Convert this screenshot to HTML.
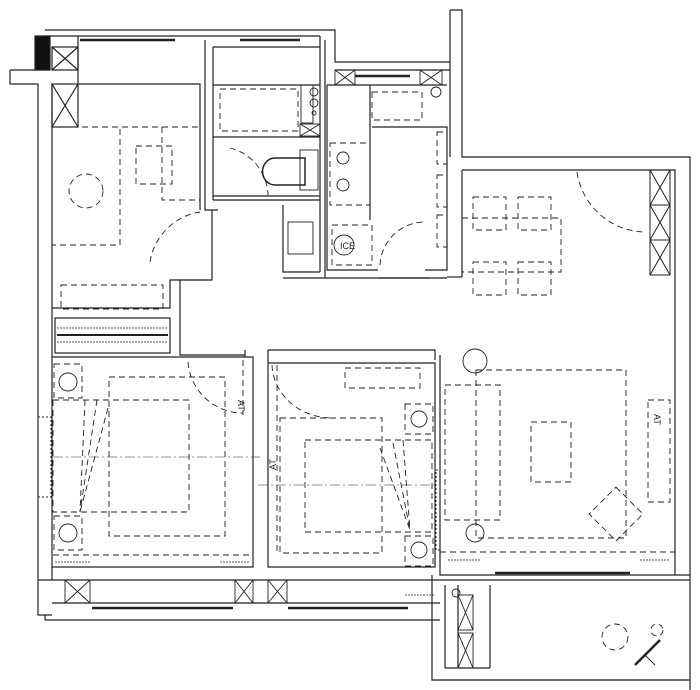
<!DOCTYPE html>
<html><head><style>html,body{margin:0;padding:0;background:#fff}svg{display:block}</style></head>
<body>
<svg width="700" height="690" viewBox="0 0 700 690" xmlns="http://www.w3.org/2000/svg" fill="none" stroke="#222" stroke-width="1">
<g stroke-width="1.2">
<!-- top-left -->
<polyline points="45,30 335,30 335,45"/>
<line x1="45" y1="36" x2="320" y2="36"/>
<rect x="35" y="36" width="15" height="34" fill="#111"/>
<polyline points="10,70 10,84 38,84 38,615 52,615"/>
<line x1="10" y1="70" x2="50" y2="70"/>
<line x1="52" y1="84" x2="52" y2="568"/>
<line x1="78" y1="36" x2="78" y2="84"/>
<rect x="52" y="47" width="26" height="23"/>
<line x1="52" y1="47" x2="78" y2="70"/><line x1="78" y1="47" x2="52" y2="70"/>
<rect x="52" y="84" width="26" height="43"/>
<line x1="52" y1="84" x2="78" y2="127"/><line x1="78" y1="84" x2="52" y2="127"/>
<polyline points="78,84 200,84 200,210"/>
<polyline points="52,308 170,308 170,280 212,280 212,210"/>
<!-- bathroom -->
<polyline points="205,40 205,210 218,210"/>
<polyline points="213,47 213,200"/>
<line x1="213" y1="47" x2="320" y2="47"/>
<line x1="213" y1="85" x2="320" y2="85"/>
<line x1="213" y1="137" x2="320" y2="137"/>
<line x1="213" y1="196" x2="320" y2="196"/>
<line x1="213" y1="200" x2="320" y2="200"/>
<line x1="320" y1="36" x2="320" y2="272"/>
<line x1="325" y1="40" x2="325" y2="278"/>
<polyline points="283,205 283,272 320,272"/>
<line x1="283" y1="278" x2="430" y2="278"/>
<!-- kitchen -->
<polyline points="335,45 335,62 450,62"/>
<line x1="335" y1="70" x2="450" y2="70"/>
<polyline points="450,10 462,10 462,157 690,157 690,690"/>
<line x1="450" y1="10" x2="450" y2="157"/>
<polyline points="327,85 327,270 378,270"/>
<line x1="327" y1="85" x2="447" y2="85"/>
<polyline points="370,85 370,220"/>
<polyline points="372,127 447,127 447,270 425,270"/>
<!-- living -->
<polyline points="462,170 675,170 675,575"/>
<line x1="462" y1="170" x2="462" y2="277"/>
<line x1="447" y1="277" x2="462" y2="277"/>
<line x1="378" y1="278" x2="447" y2="278"/>
<!-- corridor / bedrooms -->
<polyline points="180,280 180,355 245,355"/>
<polyline points="52,357 253,357 253,567 52,567"/>
<line x1="245" y1="350" x2="245" y2="357"/>
<polyline points="268,350 435,350 435,360"/>
<polyline points="268,363 435,363 435,567 268,567 268,363"/>
<line x1="268" y1="350" x2="268" y2="363"/>
<polyline points="440,355 440,575 690,575"/>
<line x1="440" y1="580" x2="690" y2="580"/>
<line x1="38" y1="580" x2="440" y2="580"/>
<line x1="52" y1="567" x2="52" y2="580"/>
<line x1="52" y1="603" x2="440" y2="603"/>
<line x1="45" y1="620" x2="440" y2="620"/>
<line x1="45" y1="615" x2="45" y2="620"/>
<polyline points="432,575 432,680 690,680"/>
<line x1="445" y1="585" x2="445" y2="668"/>
<line x1="445" y1="668" x2="490" y2="668"/>
<line x1="490" y1="585" x2="490" y2="668"/>
<line x1="458" y1="585" x2="458" y2="668"/>
</g>
<!-- pillars bottom -->
<g stroke-width="0.9">
<rect x="65" y="580" width="25" height="23"/><line x1="65" y1="580" x2="90" y2="603"/><line x1="90" y1="580" x2="65" y2="603"/>
<rect x="235" y="580" width="18" height="23"/><line x1="235" y1="580" x2="253" y2="603"/><line x1="253" y1="580" x2="235" y2="603"/>
<rect x="268" y="580" width="19" height="23"/><line x1="268" y1="580" x2="287" y2="603"/><line x1="287" y1="580" x2="268" y2="603"/>
<rect x="458" y="595" width="15" height="35"/><line x1="458" y1="595" x2="473" y2="630"/><line x1="473" y1="595" x2="458" y2="630"/>
<rect x="458" y="633" width="15" height="35"/><line x1="458" y1="633" x2="473" y2="668"/><line x1="473" y1="633" x2="458" y2="668"/>
<rect x="335" y="70" width="20" height="15"/><line x1="335" y1="70" x2="355" y2="85"/><line x1="355" y1="70" x2="335" y2="85"/>
<rect x="420" y="70" width="22" height="15"/><line x1="420" y1="70" x2="442" y2="85"/><line x1="442" y1="70" x2="420" y2="85"/>
<rect x="300" y="124" width="20" height="12"/><line x1="300" y1="124" x2="320" y2="136"/><line x1="320" y1="124" x2="300" y2="136"/>
</g>
<!-- windows -->
<g stroke-width="2.5">
<line x1="80" y1="40" x2="175" y2="40"/><line x1="240" y1="40" x2="300" y2="40"/>
<line x1="355" y1="76" x2="410" y2="76"/>
<line x1="92" y1="608" x2="233" y2="608"/><line x1="288" y1="608" x2="408" y2="608"/>
<line x1="495" y1="573" x2="630" y2="573"/>
</g>
<!-- radiator bands -->
<rect x="55" y="318" width="115" height="35" stroke-width="1.2"/>
<g stroke-width="0.8">
<line x1="57" y1="328" x2="168" y2="328" stroke-dasharray="2 1"/>
<line x1="57" y1="335" x2="168" y2="335" stroke-width="2"/>
<line x1="57" y1="342" x2="168" y2="342" stroke-dasharray="2 1"/>
<line x1="55" y1="562" x2="90" y2="562" stroke-dasharray="2 1"/>
<line x1="220" y1="562" x2="250" y2="562" stroke-dasharray="2 1"/>
<line x1="448" y1="560" x2="480" y2="560" stroke-dasharray="2 1"/>
<line x1="640" y1="560" x2="670" y2="560" stroke-dasharray="2 1"/>
<line x1="405" y1="595" x2="435" y2="595" stroke-dasharray="2 1"/>
</g>
<rect x="38" y="417" width="13" height="80" stroke-dasharray="2 2"/>
<rect x="436" y="470" width="4" height="80" stroke-dasharray="2 2"/>
<rect x="650" y="170" width="20" height="105"/>
<line x1="650" y1="205" x2="670" y2="205"/><line x1="650" y1="240" x2="670" y2="240"/>
<line x1="650" y1="170" x2="670" y2="205"/><line x1="670" y1="170" x2="650" y2="205"/>
<line x1="650" y1="205" x2="670" y2="240"/><line x1="670" y1="205" x2="650" y2="240"/>
<line x1="650" y1="240" x2="670" y2="275"/><line x1="670" y1="240" x2="650" y2="275"/>
<!-- dashed furniture -->
<g stroke-dasharray="6 4" stroke-width="0.9">
<rect x="52" y="127" width="68" height="118"/>
<line x1="52" y1="127" x2="200" y2="127"/>
<polyline points="162,127 162,200 200,200"/>
<rect x="136" y="146" width="36" height="38"/>
<circle cx="86" cy="191" r="17"/>
<rect x="61" y="285" width="102" height="24"/>
<path d="M150,262 A60,60 0 0 1 200,212"/>
<rect x="220" y="89" width="78" height="42"/>
<path d="M230,148 A50,50 0 0 1 268,195"/>
<rect x="330" y="143" width="40" height="62"/>
<rect x="332" y="225" width="40" height="40"/>
<rect x="372" y="92" width="50" height="28"/>
<rect x="437" y="132" width="10" height="32"/><rect x="437" y="175" width="10" height="32"/><rect x="437" y="215" width="10" height="32"/>
<path d="M380,265 A45,45 0 0 1 425,222"/>
<rect x="473" y="197" width="33" height="33"/><rect x="518" y="197" width="33" height="33"/>
<rect x="473" y="262" width="33" height="33"/><rect x="518" y="262" width="33" height="33"/>
<polyline points="462,218 561,218 561,272 462,272"/>
<path d="M577,172 A70,70 0 0 0 645,232"/>
<!-- bedroom 2 -->
<rect x="109" y="377" width="116" height="159"/>
<rect x="53" y="400" width="136" height="112"/>
<rect x="54" y="364" width="28" height="34"/><rect x="54" y="516" width="28" height="34"/>
<line x1="53" y1="555" x2="253" y2="555"/>
<path d="M188,362 A55,55 0 0 0 243,413"/>
<line x1="243" y1="360" x2="243" y2="415"/>
<!-- bedroom 3 -->
<rect x="280" y="418" width="102" height="135"/>
<rect x="305" y="440" width="127" height="92"/>
<rect x="345" y="368" width="75" height="20"/>
<rect x="405" y="404" width="28" height="30"/><rect x="405" y="536" width="28" height="30"/>
<path d="M272,365 A60,55 0 0 0 332,418"/>
<line x1="277" y1="365" x2="277" y2="555"/>
<!-- living -->
<rect x="445" y="385" width="55" height="135"/>
<rect x="476" y="370" width="150" height="168"/>
<rect x="531" y="422" width="40" height="60"/>
<rect x="597" y="495" width="38" height="38" transform="rotate(45 616 514)"/>
<rect x="648" y="400" width="22" height="102"/>
<line x1="440" y1="552" x2="675" y2="552"/>
<circle cx="615" cy="637" r="13"/><circle cx="657" cy="630" r="6"/>
<line x1="85" y1="400" x2="80" y2="512"/><line x1="97" y1="400" x2="80" y2="512"/><line x1="108" y1="408" x2="80" y2="512"/>
<line x1="380" y1="448" x2="410" y2="530"/><line x1="393" y1="443" x2="410" y2="530"/><line x1="403" y1="440" x2="410" y2="530"/>
</g>
<g stroke-width="0.6" stroke-dasharray="10 3 2 3">
<line x1="53" y1="457" x2="260" y2="457"/>
<line x1="258" y1="485" x2="435" y2="485"/>
</g>
<!-- fixtures -->
<g stroke-width="0.9">
<path d="M275,158 L305,158 L305,185 L275,185 A12,13 0 0 1 275,158Z" stroke-width="1.5"/>
<rect x="300" y="150" width="18" height="40"/>
<rect x="288" y="222" width="25" height="32"/>
<circle cx="344" cy="245" r="10"/>
<circle cx="343" cy="158" r="6"/><circle cx="343" cy="185" r="6"/>
<rect x="301" y="85" width="12" height="38"/>
<circle cx="314" cy="92" r="4"/><circle cx="314" cy="103" r="4"/><circle cx="314" cy="113" r="2"/>
<circle cx="436" cy="92" r="5"/>
<circle cx="68" cy="382" r="9"/><circle cx="68" cy="533" r="9"/>
<circle cx="419" cy="419" r="8"/><circle cx="419" cy="550" r="8"/>
<circle cx="475" cy="361" r="12"/><circle cx="475" cy="533" r="9"/>
<circle cx="456" cy="593" r="4"/>
<line x1="635" y1="665" x2="660" y2="640" stroke-width="2.5"/>
<line x1="645" y1="655" x2="655" y2="665"/>
</g>
<g font-family="Liberation Sans, sans-serif" font-size="9" fill="#222" stroke="none">
<text x="340" y="249">ICE</text>
<text x="238" y="408" transform="rotate(90 242 404)">AT</text>
<text x="268" y="470" transform="rotate(-90 272 466)">AT</text>
<text x="654" y="422" transform="rotate(90 658 418)">AT</text>
</g>
</svg>
</body></html>
